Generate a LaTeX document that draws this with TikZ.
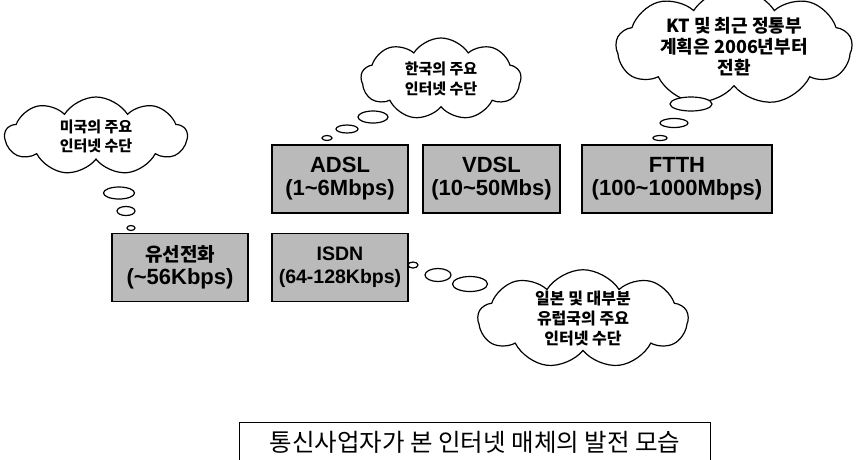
\documentclass[tikz,border=0pt]{standalone}
\usepackage{fontspec}
\setmainfont{Liberation Sans}
\newfontfamily\kr{Noto Sans CJK KR}
\usetikzlibrary{shapes.symbols,shapes.geometric}
\begin{document}
\begin{tikzpicture}[x=1pt,y=-1pt,
  box/.style={draw=black, line width=1.3pt, fill=black!27, minimum height=68pt,
    inner sep=0pt, align=center, font=\bfseries\fontsize{22}{23}\selectfont},
  thought/.style={cloud, cloud puffs=9, cloud puff arc=115, cloud ignores aspect,
    draw, line width=1.2pt, fill=white, align=center, inner sep=0pt},
  bub/.style={ellipse, draw, line width=1.2pt, fill=white, inner sep=0pt},
  ktext/.style 2 args={font=\kr\bfseries\fontsize{#1}{#2}\selectfont}
]
\useasboundingbox (0,0) rectangle (857,459);

% boxes
\node[box, minimum width=136pt] (phone) at (180,267.5)
  {{\kr\bfseries\fontsize{19}{23}\selectfont 유선전화}\\(\textasciitilde56Kbps)};
\node[box, minimum width=136pt] (adsl) at (340,179) {ADSL\\(1\textasciitilde6Mbps)};
\node[box, minimum width=136pt, font=\bfseries\fontsize{19.5}{23}\selectfont] (isdn) at (340,267.5) {ISDN\\(64-128Kbps)};
\node[box, minimum width=137pt] (vdsl) at (491.5,179) {VDSL\\(10\textasciitilde50Mbs)};
\node[box, minimum width=190pt] (ftth) at (677,179) {FTTH\\(100\textasciitilde1000Mbps)};

% clouds
\node[thought, minimum width=182pt, minimum height=78pt, ktext={15}{19}] (c1) at (96,136)
  {미국의 주요\\인터넷 수단};
\node[thought, minimum width=160pt, minimum height=82pt, ktext={15}{20}] (c2) at (441,79)
  {한국의 주요\\인터넷 수단};
\node[thought, minimum width=236pt, minimum height=90pt, ktext={18}{21}] (c3) at (734,47)
  {KT 및 최근 정통부\\계획은 2006년부터\\전환};
\node[thought, minimum width=210pt, minimum height=92pt, ktext={16}{20}] (c4) at (583,319)
  {일본 및 대부분\\유럽국의 주요\\인터넷 수단};

% thought bubbles
\node[bub, minimum width=31pt, minimum height=12pt] (b1a) at (119,193) {};
\node[bub, minimum width=18pt, minimum height=9pt] (b1b) at (126,211) {};
\node[bub, minimum width=8pt, minimum height=5pt] (b1c) at (131,228) {};

\node[bub, minimum width=30pt, minimum height=12pt] (b2a) at (373,117) {};
\node[bub, minimum width=22pt, minimum height=8pt] (b2b) at (347,129) {};
\node[bub, minimum width=10pt, minimum height=5pt] (b2c) at (327,138) {};

\node[bub, minimum width=42pt, minimum height=14pt] (b3a) at (691,104) {};
\node[bub, minimum width=28pt, minimum height=9pt] (b3b) at (674,123) {};
\node[bub, minimum width=14pt, minimum height=5pt] (b3c) at (660,138) {};

\node[bub, minimum width=10pt, minimum height=6pt] (b4a) at (413,265) {};
\node[bub, minimum width=26pt, minimum height=13pt] (b4b) at (438,275) {};
\node[bub, minimum width=35pt, minimum height=15pt] (b4c) at (470,284) {};

% title
\node[minimum width=470pt, minimum height=38pt, inner sep=0pt,
  font=\kr\fontsize{24.5}{26}\selectfont] (title) at (475,442)
  {통신사업자가 본 인터넷 매체의 발전 모습};
\draw[line width=1.2pt] (title.south west) -- (title.north west)
  -- (title.north east) -- (title.south east);
\end{tikzpicture}
\end{document}
